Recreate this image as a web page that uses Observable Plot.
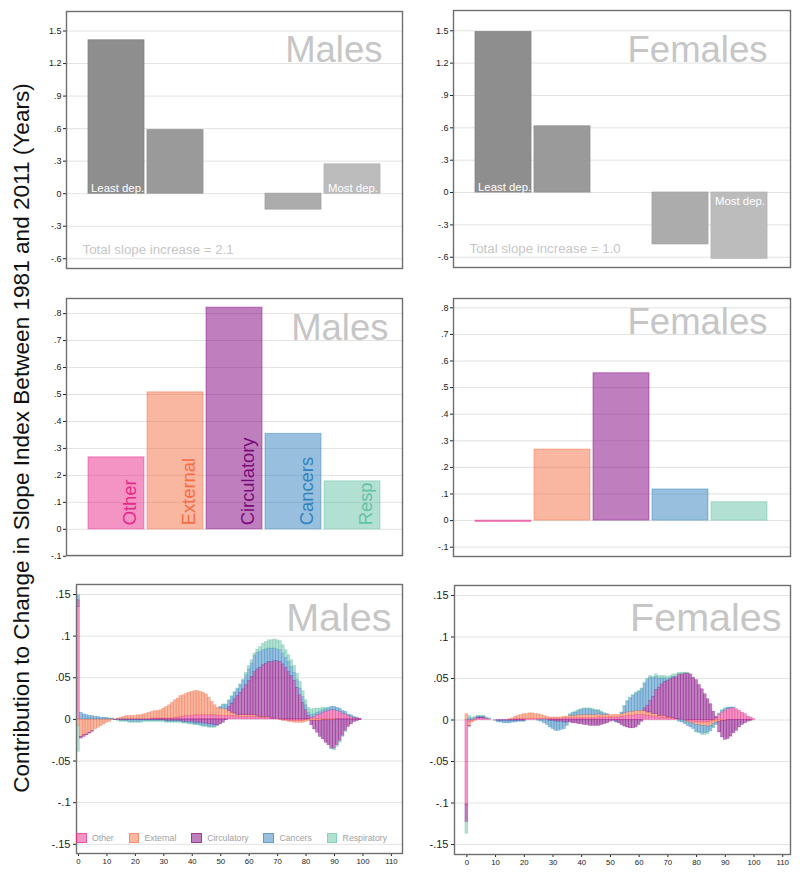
<!DOCTYPE html>
<html><head><meta charset="utf-8">
<script src="https://cdn.jsdelivr.net/npm/d3@7"></script>
<script src="https://cdn.jsdelivr.net/npm/@observablehq/plot@0.6"></script>
<style>
body{margin:0;background:#fff;}
#root{position:relative;width:800px;height:874px;font-family:"Liberation Sans",Arial,Helvetica,sans-serif;overflow:hidden;}
#ylab{position:absolute;left:22px;top:438px;transform:translate(-50%,-50%) rotate(-90deg);white-space:nowrap;font-size:22.6px;color:#111;}
#legend{position:absolute;left:76px;top:833px;display:flex;align-items:center;font-size:8.7px;color:#a0a0a0;}
#legend .item{display:flex;align-items:center;margin-right:14.8px;}
#legend .sw{width:10.7px;height:10px;box-sizing:border-box;margin-right:5.3px;}
</style></head><body><div id="root"><div id="ylab">Contribution to Change in Slope Index Between 1981 and 2011 (Years)</div></div>
<script>
// ---------- data ----------
const quintiles = [1, 2, 3, 4, 5];
const quintileLabels = ["Least dep.", "", "", "", "Most dep."];
const maleQuintile = [1.414, 0.586, 0, -0.147, 0.270];
const femaleQuintile = [1.488, 0.614, 0, -0.481, -0.614];
const quintileTicks = [-0.6, -0.3, 0, 0.3, 0.6, 0.9, 1.2, 1.5];

const causes = ["Other", "External", "Circulatory", "Cancers", "Respiratory"];
const causeShort = ["Other", "External", "Circulatory", "Cancers", "Resp"];
const maleCause = [0.267, 0.508, 0.822, 0.354, 0.178];
const femaleCause = [-0.005, 0.267, 0.554, 0.117, 0.069];
const causeTicks = [-0.1, 0, 0.1, 0.2, 0.3, 0.4, 0.5, 0.6, 0.7, 0.8];

const ages = d3.range(0, 101);
const ageTicksY = [-0.15, -0.1, -0.05, 0, 0.05, 0.1, 0.15];
const ageTicksX = [0, 10, 20, 30, 40, 50, 60, 70, 80, 90, 100, 110];

// contributions by single year of age, in thousandths of a year (ages 0..100)
const maleOther = [
  135,0,0,0,0,0,0,0,0,0,
  0,0,0,0,0,0,0,0,0,0,
  0,0,0,0,0,0,1,1,1,1,
  1,1,1,1,2,2,3,3,4,4,
  4,5,5,5,5,5,5,5,5,4,
  4,4,4,4,4,4,3,3,3,3,
  3,3,3,3,2,2,2,2,1,1,
  0,0,-1,-1,-2,-2,-2,-2,-2,-2,
  -1,0,2,3,5,6,8,9,10,11,
  11,10,9,7,6,4,3,2,1,1,
  0];
const maleExternal = [
  -8,-21,-19,-18,-16,-14,-12,-10,-8,-6,
  -4,-3,-1,0,1,2,3,4,4,4,
  4,5,5,6,7,8,8,9,9,10,
  12,14,16,19,21,23,25,26,27,28,
  29,29,29,28,27,25,21,16,12,10,
  9,9,8,6,4,3,2,2,2,2,
  2,2,2,1,1,1,1,1,0,0,
  0,-1,-1,-1,-1,-1,-2,-2,-2,-2,
  -2,-2,-2,-2,-2,-2,-1,-1,-1,-1,
  -1,0,0,0,0,0,0,0,0,0,
  0];
const maleCirc = [
  8,-2,-2,-1,-1,-1,0,0,0,0,
  0,0,0,-1,-1,-1,-1,-1,-1,-1,
  -1,-1,-1,-1,-1,-1,-1,-1,-1,-1,
  -1,-2,-2,-2,-2,-2,-2,-3,-3,-3,
  -3,-4,-4,-4,-5,-5,-6,-6,-7,-7,
  -6,-4,-1,5,11,17,23,27,31,36,
  41,46,52,56,59,62,64,66,68,69,
  70,69,66,62,57,52,46,38,29,20,
  11,4,-5,-10,-14,-19,-23,-27,-30,-34,
  -34,-31,-26,-20,-14,-9,-6,-3,-2,-1,
  0];
const maleCancers = [
  6,8,6,5,4,4,3,3,2,2,
  2,1,1,0,0,-1,-1,-1,-2,-2,
  -2,-2,-2,-1,-1,-1,-1,-1,-1,-1,
  -1,-1,-1,-1,-1,-1,-1,-1,-1,-2,
  -2,-2,-2,-3,-3,-3,-3,-3,-2,-1,
  2,4,5,7,8,8,8,9,10,12,
  14,16,19,20,19,18,17,16,16,15,
  14,14,13,12,12,11,10,9,8,7,
  6,4,3,3,3,3,3,3,3,4,
  4,4,4,3,3,2,2,1,1,0,
  0];
const maleResp = [
  -31,0,0,0,0,0,0,0,0,0,
  0,0,0,0,-1,-1,-1,-1,-1,-1,
  -1,-1,-1,-1,-1,-1,-1,-1,-1,-1,
  -1,-1,-1,-1,-1,-1,-1,-1,-1,-1,
  -1,-1,-1,-1,-1,-1,-1,-1,-1,0,
  0,1,1,1,1,1,1,1,2,3,
  4,4,3,4,6,8,9,10,10,11,
  11,11,10,9,8,8,8,8,8,7,
  6,6,7,7,5,4,3,2,1,-1,
  -2,-2,-2,-1,-1,0,0,0,0,0,
  0];

const femaleOther = [
  -102,-3,-1,1,2,2,2,1,1,0,
  0,0,0,0,0,0,0,1,1,1,
  1,1,1,1,1,1,1,1,1,1,
  1,1,1,1,2,2,2,2,2,2,
  2,2,2,2,2,2,3,3,3,3,
  3,3,3,3,4,4,5,5,5,6,
  6,6,6,5,5,4,4,3,3,3,
  2,2,1,1,1,0,0,-1,-2,-2,
  -3,-3,-3,-3,-3,-2,-1,2,6,9,
  11,13,14,14,13,11,9,7,4,3,
  1];
const femaleExternal = [
  7,-4,-2,-1,0,0,0,0,0,0,
  0,0,0,0,0,1,2,3,4,5,
  6,6,7,7,6,6,5,4,3,2,
  2,2,2,2,2,2,3,3,3,4,
  4,4,4,4,4,4,4,3,3,3,
  3,3,3,3,3,4,4,5,5,5,
  5,5,5,4,4,3,3,2,2,2,
  1,1,1,0,0,0,-1,-1,-2,-2,
  -3,-3,-4,-4,-5,-5,-4,-3,-2,-1,
  -1,0,0,0,0,0,0,0,0,0,
  0];
const femaleCirc = [
  -21,-1,0,0,1,1,1,0,0,0,
  0,-1,-1,-1,-1,-1,-1,-1,-1,-1,
  -1,0,0,0,0,0,0,0,0,-1,
  -1,-2,-2,-2,-3,-3,-3,-4,-4,-5,
  -5,-6,-6,-7,-7,-7,-7,-6,-5,-4,
  -2,-1,-2,-4,-6,-8,-9,-10,-10,-9,
  -6,-2,3,8,14,21,29,34,38,41,
  44,46,49,51,54,55,56,56,55,51,
  48,42,37,31,25,19,10,2,-13,-20,
  -23,-23,-20,-16,-13,-9,-6,-4,-2,-1,
  0];
const femaleCancers = [
  0,2,1,1,1,1,1,1,0,0,
  -1,-2,-2,-3,-3,-3,-2,-2,-1,-1,
  -1,0,0,0,0,-1,-2,-4,-6,-8,
  -10,-11,-11,-10,-8,-4,1,3,4,5,
  6,7,7,7,6,5,4,3,2,1,
  0,0,-1,0,2,8,13,16,19,21,
  23,26,29,31,28,22,16,11,7,4,
  2,1,1,0,-2,-3,-4,-5,-5,-7,
  -8,-9,-9,-9,-7,-6,-4,-3,1,2,
  2,2,1,1,0,0,0,0,0,0,
  0];
const femaleResp = [
  -14,3,2,2,1,1,1,1,1,0,
  0,0,0,0,0,0,0,0,0,0,
  0,0,0,0,0,0,0,0,0,0,
  0,0,0,0,0,0,1,1,1,1,
  1,1,1,1,1,1,1,1,0,0,
  0,0,0,0,0,1,1,1,1,1,
  1,1,2,2,2,2,3,3,3,3,
  3,3,3,3,2,2,1,1,0,0,
  -1,-1,-2,-2,-2,-1,-1,0,1,1,
  1,0,0,0,0,0,0,0,0,0,
  0];

// ---------- styles ----------
const FONT = '"Liberation Sans", Arial, Helvetica, sans-serif';
const greyFills = ["#8e8e8e", "#9a9a9a", "#a6a6a6", "#acacac", "#bcbcbc"];
const greyStrokes = ["#858585", "#919191", "#9d9d9d", "#a2a2a2", "#b2b2b2"];
const causeColors = ["#e7298a", "#f46d43", "#800080", "#3182bd", "#66c2a5"];
const causeText = ["#e7298a", "#f46d43", "#7a0a7a", "#3182bd", "#66c2a5"];
const titleGrey = "#c6c6c6";
const gridGrey = "#e2e2e2";
const frameGrey = "#6e6e6e";

const fmt = d => d === 0 ? "0" : String(Math.round(d * 1000) / 1000).replace(/^(-?)0\./, "$1.");
const root = document.getElementById("root");
function place(svg, left, top) {
  svg.style.position = "absolute";
  svg.style.left = left + "px";
  svg.style.top = top + "px";
  root.appendChild(svg);
}

function titleMark(title, dx, dy, size) {
  return Plot.text([title], {frameAnchor: "top-right", text: d => d, textAnchor: "end", lineAnchor: "bottom",
    dx, dy, fill: titleGrey, fontSize: size});
}

function quintilePanel(values, title, o) {
  const data = quintiles.map((q, i) => ({q, v: values[i], label: quintileLabels[i], i}));
  const total = d3.sum(values).toFixed(1);
  const least = data.filter(d => d.i === 0);
  const most = data.filter(d => d.i === 4);
  const la = d => d[0].v >= 0 ? "bottom" : "top";
  return Plot.plot({
    width: o.width, height: o.height,
    marginLeft: o.ml, marginRight: o.mr, marginTop: o.mt, marginBottom: o.mb,
    style: {fontFamily: FONT, background: "transparent", color: "#222"},
    x: {type: "band", domain: quintiles, paddingInner: 0.05, paddingOuter: 0.335, axis: null},
    y: {domain: o.yDomain},
    marks: [
      Plot.gridY(quintileTicks, {stroke: gridGrey, strokeOpacity: 1}),
      Plot.barY(data.filter(d => d.v !== 0), {x: "q", y: "v", fill: d => greyFills[d.i], stroke: d => greyStrokes[d.i], strokeWidth: 0.8}),
      Plot.axisY(quintileTicks, {tickFormat: fmt, fontSize: 9, tickSize: 3, tickPadding: 2, label: null}),
      Plot.text(least, {x: "q", y: 0, text: "label", fill: "white", fontSize: 11.4, textAnchor: "start",
        lineAnchor: la(least), dx: -25.5, dy: la(least) === "bottom" ? -2 : 3}),
      Plot.text(most, {x: "q", y: 0, text: "label", fill: "white", fontSize: 11.4, textAnchor: "end",
        lineAnchor: la(most), dx: 25.5, dy: la(most) === "bottom" ? -2 : 4}),
      Plot.text([`Total slope increase = ${total}`], {frameAnchor: "bottom-left", text: d => d, textAnchor: "start",
        lineAnchor: "bottom", dx: 16, dy: -15, fill: titleGrey, fontSize: 13.3}),
      titleMark(title, o.tdx, o.tdy, 36.5),
      Plot.frame({stroke: frameGrey, strokeWidth: 1.4})
    ]
  });
}

function causePanel(values, title, labels, o) {
  const data = causes.map((c, i) => ({c, v: values[i], short: causeShort[i], i}));
  return Plot.plot({
    width: o.width, height: o.height,
    marginLeft: o.ml, marginRight: o.mr, marginTop: o.mt, marginBottom: o.mb,
    style: {fontFamily: FONT, background: "transparent", color: "#222"},
    x: {type: "band", domain: causes, paddingInner: 0.05, paddingOuter: 0.335, axis: null},
    y: {domain: o.yDomain},
    marks: [
      Plot.gridY(causeTicks, {stroke: gridGrey, strokeOpacity: 1}),
      Plot.barY(data, {x: "c", y: "v", fill: d => causeColors[d.i], fillOpacity: 0.5,
        stroke: d => causeColors[d.i], strokeOpacity: 0.45, strokeWidth: 1}),
      Plot.axisY(causeTicks, {tickFormat: fmt, fontSize: 9, tickSize: 3, tickPadding: 2, label: null}),
      labels ? Plot.text(data, {x: "c", y: 0, text: "short", rotate: -90, textAnchor: "start",
        fill: d => causeText[d.i], fontSize: 18.4, dx: 13.5, dy: -4}) : null,
      titleMark(title, o.tdx, o.tdy, 36.5),
      Plot.frame({stroke: frameGrey, strokeWidth: 1.4})
    ]
  });
}

function agePanel(series, title, o) {
  const data = [];
  ages.forEach((a, k) => causes.forEach((c, j) => {
    const v = series[j][k];
    if (v !== 0) data.push({x1: a - 0.5, x2: a + 0.5, cause: c, j, v: v / 1000});
  }));
  return Plot.plot({
    width: o.width, height: o.height,
    marginLeft: o.ml, marginRight: o.mr, marginTop: o.mt, marginBottom: o.mb,
    style: {fontFamily: FONT, background: "transparent", color: "#222"},
    x: {domain: o.xDomain},
    y: {domain: o.yDomain},
    marks: [
      Plot.gridY(ageTicksY, {stroke: gridGrey, strokeOpacity: 1}),
      Plot.rectY(data, {x1: "x1", x2: "x2", y: "v", fill: d => causeColors[d.j], fillOpacity: 0.5,
        stroke: d => causeColors[d.j], strokeOpacity: 0.45, strokeWidth: 0.6}),
      Plot.axisY(ageTicksY, {tickFormat: fmt, fontSize: 11, tickSize: 3, tickPadding: 3, label: null}),
      Plot.axisX(ageTicksX, {fontSize: 7.8, tickSize: 3, tickPadding: 2, label: null}),
      titleMark(title, o.tdx, o.tdy, 39.5),
      Plot.frame({stroke: frameGrey, strokeWidth: 1.4})
    ]
  });
}

place(quintilePanel(maleQuintile, "Males", {width: 410, height: 280, ml: 66, mr: 8, mt: 11, mb: 12,
  yDomain: [-0.69, 1.68], tdx: -20, tdy: 50}), 0, 0);
place(quintilePanel(femaleQuintile, "Females", {width: 390, height: 280, ml: 43, mr: 10, mt: 10, mb: 13,
  yDomain: [-0.695, 1.688], tdx: -23, tdy: 51}), 410, 0);
place(causePanel(maleCause, "Males", true, {width: 410, height: 285, ml: 66, mr: 8, mt: 13, mb: 15,
  yDomain: [-0.097, 0.856], tdx: -14, tdy: 41}), 0, 285);
place(causePanel(femaleCause, "Females", false, {width: 390, height: 285, ml: 43, mr: 10, mt: 13, mb: 14,
  yDomain: [-0.135, 0.835], tdx: -23, tdy: 35}), 410, 285);
place(agePanel([maleOther, maleExternal, maleCirc, maleCancers, maleResp], "Males",
  {width: 410, height: 299, ml: 76, mr: 8, mt: 9, mb: 21, xDomain: [-0.7, 113.9], yDomain: [-0.161, 0.162], tdx: -11, tdy: 46}), 0, 575);
place(agePanel([femaleOther, femaleExternal, femaleCirc, femaleCancers, femaleResp], "Females",
  {width: 390, height: 299, ml: 44, mr: 10, mt: 10, mb: 20, xDomain: [-4.3, 112.7], yDomain: [-0.162, 0.162], tdx: -9, tdy: 45}), 410, 575);

// legend for the age panels
const legend = document.createElement("div");
legend.id = "legend";
causes.forEach((c, i) => {
  const item = document.createElement("div");
  item.className = "item";
  const sw = document.createElement("div");
  sw.className = "sw";
  const col = d3.color(causeColors[i]);
  sw.style.background = `rgba(${col.r},${col.g},${col.b},0.5)`;
  sw.style.border = `1px solid rgba(${col.r},${col.g},${col.b},0.55)`;
  const t = document.createElement("span");
  t.textContent = c;
  item.appendChild(sw); item.appendChild(t);
  legend.appendChild(item);
});
root.appendChild(legend);
// keep the axis title above the panels
root.appendChild(document.getElementById("ylab"));
</script></body></html>
